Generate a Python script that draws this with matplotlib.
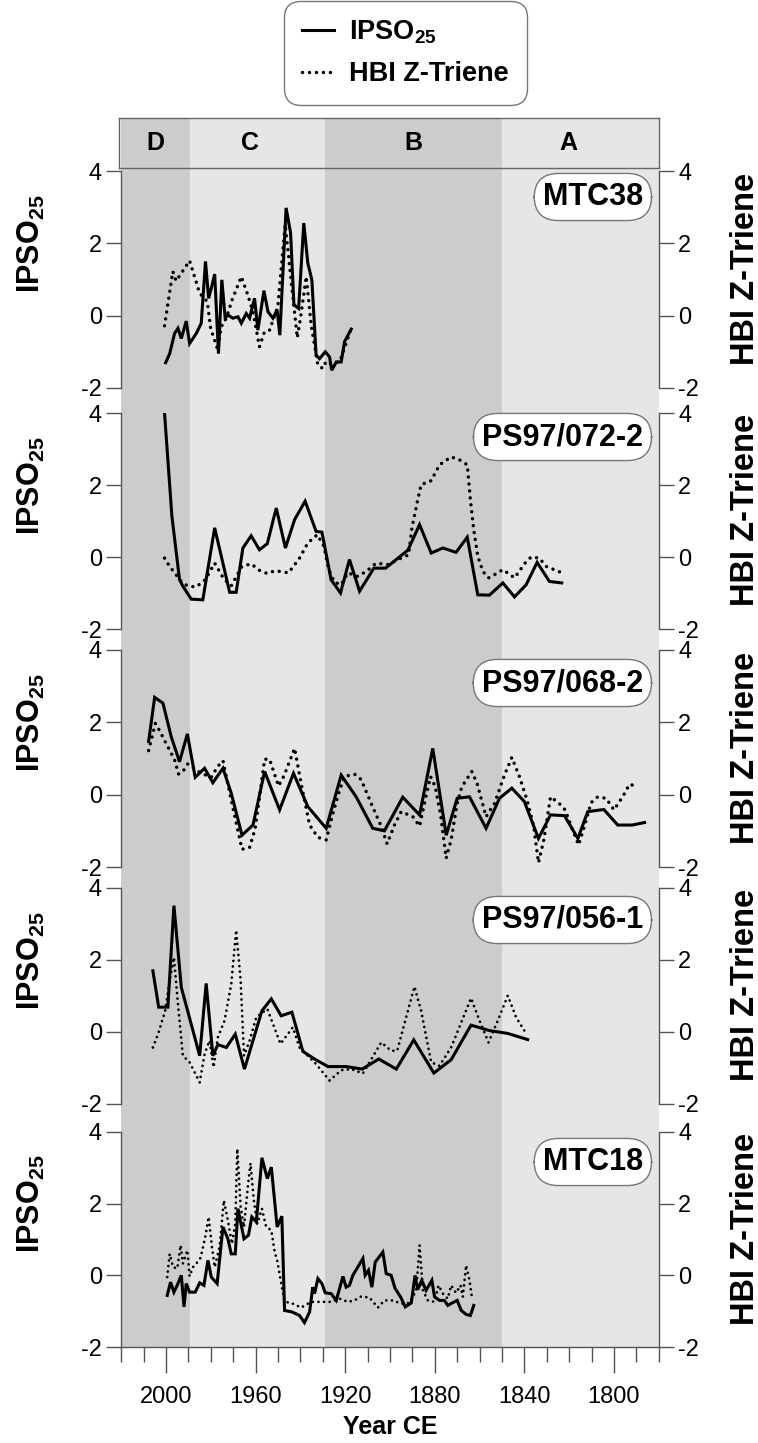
import matplotlib
matplotlib.use("Agg")
import matplotlib.pyplot as plt
from matplotlib.ticker import MultipleLocator, FixedLocator
from matplotlib.lines import Line2D

plt.rcParams['font.family'] = ['Liberation Sans', 'DejaVu Sans']
plt.rcParams['axes.unicode_minus'] = False
plt.rcParams['mathtext.fontset'] = 'custom'
plt.rcParams['mathtext.rm'] = 'Liberation Sans'
plt.rcParams['mathtext.bf'] = 'Liberation Sans:bold'

# ------------------------------------------------------------------ data
zone_edges = [2020, 1989.5, 1929, 1850, 1780]
zone_names = ['D', 'C', 'B', 'A']
zone_label_years = [2004.8, 1962.3, 1889.7, 1820.4]
zone_colors = ['#cccccc', '#e6e6e6', '#cccccc', '#e6e6e6']

core_names = ['MTC38', 'PS97/072-2', 'PS97/068-2', 'PS97/056-1', 'MTC18']
y_ticks = [-2, 0, 2, 4]
x_major_years = [2000, 1960, 1920, 1880, 1840, 1800]

# MTC38
mtc38_ipso_year = [2000.2, 1998.4, 1996.2, 1994.7, 1993.2, 1991.0, 1989.5, 1986.5, 1984.3, 1982.4,
                   1981.0, 1979.8, 1978.3, 1976.6, 1975.1, 1973.6, 1972.4, 1970.2, 1967.9, 1966.4,
                   1964.2, 1962.7, 1960.5, 1959.0, 1956.3, 1954.5, 1952.3, 1950.4, 1949.2, 1946.4,
                   1944.4, 1942.9, 1940.8, 1938.5, 1936.7, 1934.9, 1933.0, 1931.5, 1928.9, 1927.0,
                   1926.0, 1924.0, 1921.8, 1920.3, 1917.3]
mtc38_ipso = [-1.30, -1.05, -0.49, -0.35, -0.63, -0.15, -0.77, -0.49, -0.21, 1.50,
              0.48, 0.76, 1.15, -1.05, 0.99, -0.07, 0.02, -0.07, -0.03, -0.21,
              0.06, -0.07, 0.48, -0.40, 0.69, 0.11, -0.07, 0.16, -0.54, 2.98,
              2.29, 0.30, 0.20, 2.56, 1.45, 0.99, -1.09, -1.19, -1.00, -1.14,
              -1.51, -1.28, -1.28, -0.72, -0.37]
mtc38_hbi_year = [2000.7, 1997.0, 1995.5, 1989.5, 1985.0, 1981.6, 1980.1, 1976.9, 1975.4, 1973.1,
                  1970.5, 1966.4, 1963.5, 1961.2, 1958.3, 1956.0, 1953.8, 1950.1, 1946.8, 1944.1,
                  1941.4, 1940.0, 1937.4, 1935.2, 1932.2, 1930.0, 1928.5, 1926.3, 1922.5, 1917.3]
mtc38_hbi = [-0.28, 1.22, 0.96, 1.52, 0.62, 0.39, -0.35, -0.95, -0.31, -0.07,
             0.44, 1.08, 0.57, 0.11, -0.86, -0.44, -0.40, 0.25, 2.52, 0.94,
             -0.61, -0.07, 1.08, -0.26, -1.37, -1.46, -1.26, -1.32, -1.28, -0.35]

# PS97/072-2
ps072_ipso_year = [2000.7, 1997.4, 1994.0, 1992.5, 1988.8, 1983.6, 1978.3, 1971.6, 1968.7, 1965.7,
                   1962.0, 1958.3, 1954.8, 1950.8, 1946.7, 1942.6, 1937.9, 1933.0, 1930.4, 1926.3,
                   1922.1, 1918.1, 1913.6, 1907.2, 1902.0, 1892.0, 1886.8, 1881.6, 1876.4, 1870.5,
                   1865.5, 1860.8, 1855.6, 1849.6, 1844.4, 1839.2, 1834.3, 1828.8, 1823.3]
ps072_ipso = [4.00, 1.13, -0.63, -0.81, -1.17, -1.19, 0.81, -0.98, -0.98, 0.25,
              0.59, 0.20, 0.37, 1.36, 0.25, 1.04, 1.55, 0.71, 0.69, -0.63,
              -1.00, -0.07, -0.95, -0.31, -0.31, 0.19, 0.90, 0.11, 0.25, 0.13,
              0.55, -1.05, -1.06, -0.72, -1.11, -0.77, -0.15, -0.68, -0.72]
ps072_hbi_year = [2000.7, 1998.4, 1996.2, 1993.2, 1990.3, 1986.5, 1982.5, 1978.3, 1974.2, 1970.9,
                  1966.1, 1962.0, 1958.3, 1954.8, 1951.3, 1945.3, 1940.4, 1936.7, 1932.5, 1929.5,
                  1927.4, 1924.8, 1921.8, 1918.8, 1914.4, 1910.6, 1906.2, 1901.0, 1895.0, 1891.7,
                  1890.2, 1887.6, 1886.1, 1881.6, 1877.9, 1872.7, 1869.0, 1865.5, 1864.1, 1862.6,
                  1860.8, 1858.5, 1856.0, 1853.3, 1849.6, 1844.4, 1839.7, 1837.0, 1833.3, 1830.3,
                  1823.6]
ps072_hbi = [-0.03, -0.26, -0.44, -0.68, -0.81, -0.83, -0.63, -0.17, -0.61, -0.80,
             -0.26, -0.19, -0.37, -0.46, -0.38, -0.44, -0.03, 0.39, 0.62, 0.30,
             -0.35, -0.70, -0.77, -0.44, -0.54, -0.40, -0.17, -0.21, -0.03, 0.06,
             0.81, 1.59, 2.01, 2.12, 2.56, 2.78, 2.70, 2.56, 1.59, 0.76,
             0.02, -0.40, -0.58, -0.49, -0.35, -0.58, -0.17, 0.00, -0.03, -0.26,
             -0.43]

# PS97/068-2
ps068_ipso_year = [2007.8, 2005.1, 2001.4, 1997.7, 1994.0, 1990.5, 1987.0, 1982.8, 1979.1, 1974.6,
                   1970.9, 1966.1, 1961.2, 1956.0, 1949.3, 1943.1, 1936.7, 1928.5, 1921.8, 1915.1,
                   1907.7, 1902.5, 1894.3, 1886.8, 1880.9, 1874.9, 1870.0, 1864.5, 1857.1, 1851.1,
                   1845.6, 1840.0, 1833.7, 1828.3, 1822.1, 1816.1, 1811.7, 1804.5, 1798.3, 1791.9,
                   1786.3]
ps068_ipso = [1.47, 2.69, 2.53, 1.60, 0.91, 1.68, 0.48, 0.73, 0.33, 0.73,
              0.04, -1.12, -0.84, 0.64, -0.42, 0.59, -0.33, -0.93, 0.54, -0.06,
              -0.93, -1.00, -0.07, -0.56, 1.28, -1.12, -0.10, -0.06, -0.93, -0.10,
              0.18, -0.19, -1.21, -0.56, -0.58, -1.21, -0.47, -0.41, -0.84, -0.84,
              -0.77]
ps068_hbi_year = [2007.8, 2004.8, 2002.9, 1996.2, 1994.4, 1992.5, 1990.3, 1984.3, 1979.8, 1977.2,
                  1974.6, 1970.9, 1966.1, 1962.7, 1960.2, 1956.0, 1953.8, 1949.8, 1947.5, 1942.6,
                  1939.7, 1935.9, 1932.2, 1928.5, 1925.5, 1922.5, 1920.3, 1915.9, 1912.9, 1908.4,
                  1903.9, 1901.3, 1898.0, 1895.0, 1889.8, 1886.8, 1884.3, 1881.9, 1879.8, 1877.4,
                  1874.9, 1872.7, 1870.0, 1867.9, 1863.5, 1861.1, 1857.1, 1853.3, 1848.9, 1845.6,
                  1842.2, 1838.8, 1835.8, 1833.7, 1831.3, 1828.3, 1824.8, 1821.8, 1818.4, 1815.8,
                  1813.2, 1810.2, 1807.2, 1803.5, 1800.0, 1796.0, 1793.0, 1789.5]
ps068_hbi = [1.22, 1.97, 1.77, 0.96, 0.57, 0.64, 0.85, 0.59, 0.48, 0.76,
             0.94, -0.15, -1.51, -1.46, -0.93, 0.98, 0.98, 0.24, 0.50, 1.28,
             0.31, -0.84, -1.18, -1.25, -0.52, 0.13, 0.50, 0.57, 0.42, -0.24,
             -0.88, -1.36, -0.84, -0.47, -0.61, -0.87, -0.15, 0.50, 0.22, -0.56,
             -1.76, -1.25, -0.24, 0.22, 0.64, 0.31, -0.61, -0.24, 0.54, 1.03,
             0.50, -0.15, -0.88, -1.88, -1.25, -0.06, -0.22, -0.42, -0.98, -1.39,
             -0.88, -0.22, -0.06, -0.10, -0.42, -0.05, 0.29, 0.22]

# PS97/056-1
ps056_ipso_year = [2005.9, 2003.3, 1999.2, 1996.5, 1993.2, 1985.0, 1982.1, 1979.1, 1976.9, 1973.1,
                   1969.1, 1965.0, 1957.2, 1953.0, 1948.6, 1943.8, 1938.9, 1933.7, 1927.7, 1919.6,
                   1912.4, 1905.0, 1897.2, 1889.4, 1880.4, 1872.7, 1863.8, 1855.6, 1847.4, 1838.5]
ps056_ipso = [1.70, 0.69, 0.69, 3.51, 1.24, -0.66, 1.35, -0.66, -0.35, -0.43,
              -0.06, -1.03, 0.59, 0.92, 0.45, 0.55, -0.54, -0.75, -0.96, -0.96,
              -1.03, -0.75, -1.03, -0.22, -1.14, -0.77, 0.19, 0.04, -0.04, -0.21]
ps056_hbi_year = [2005.9, 2003.6, 2000.4, 1998.4, 1996.5, 1994.7, 1992.5, 1989.5, 1985.0, 1982.8,
                  1980.6, 1978.8, 1976.9, 1973.9, 1970.9, 1968.7, 1966.7, 1965.2, 1962.7, 1959.7,
                  1954.8, 1948.9, 1943.4, 1940.4, 1933.0, 1927.0, 1921.8, 1917.3, 1912.1, 1903.9,
                  1899.5, 1896.8, 1889.1, 1886.1, 1881.6, 1877.9, 1872.7, 1863.8, 1860.0, 1856.0,
                  1851.9, 1847.4, 1843.7, 1840.0]
ps056_hbi = [-0.43, -0.06, 0.59, 1.43, 2.07, 0.78, -0.66, -0.84, -1.40, -0.61,
             -0.24, -0.98, -0.15, 0.31, 1.33, 2.83, 1.43, -0.66, -0.24, 0.41,
             0.64, -0.33, 0.13, -0.43, -0.89, -1.35, -1.06, -1.03, -1.15, -0.29,
             -0.52, -0.52, 1.26, 0.59, -0.84, -0.94, -0.43, 0.94, 0.31, -0.29,
             0.31, 1.01, 0.41, 0.04]

# MTC18
mtc18_ipso_year = [1999.5, 1998.0, 1996.5, 1994.7, 1993.2, 1992.0, 1991.0, 1989.5, 1987.0, 1985.0,
                   1983.1, 1981.3, 1979.8, 1977.2, 1974.6, 1972.4, 1970.9, 1969.1, 1967.9, 1965.2,
                   1963.2, 1961.7, 1959.7, 1957.2, 1954.8, 1953.0, 1950.4, 1948.3, 1947.1, 1943.8,
                   1940.4, 1938.2, 1935.9, 1934.5, 1933.7, 1932.2, 1930.4, 1928.9, 1926.3, 1924.0,
                   1921.0, 1919.6, 1918.1, 1916.6, 1914.4, 1912.1, 1911.1, 1909.6, 1908.1, 1906.6,
                   1903.2, 1901.7, 1899.5, 1897.7, 1895.3, 1893.2, 1890.5, 1888.8, 1887.6, 1885.8,
                   1883.9, 1881.3, 1880.1, 1877.9, 1875.7, 1874.2, 1872.2, 1870.0, 1868.2, 1866.0,
                   1864.1, 1862.6]
mtc18_ipso = [-0.56, -0.19, -0.47, -0.23, 0.00, -0.88, -0.23, -0.47, -0.47, -0.21,
              -0.28, 0.42, -0.05, -0.23, 1.35, 1.02, 0.60, 0.60, 1.86, 1.02,
              1.12, 1.63, 1.49, 3.28, 2.70, 3.02, 1.35, 1.65, -0.98, -1.02,
              -1.12, -1.32, -1.02, -0.33, -0.51, -0.09, -0.23, -0.49, -0.51, -0.70,
              -0.03, -0.33, -0.28, 0.00, 0.23, 0.47, 0.00, 0.14, -0.33, 0.37,
              0.65, 0.05, 0.00, -0.37, -0.60, -0.88, -0.77, 0.00, -0.40, -0.14,
              -0.42, -0.14, -0.60, -0.70, -0.70, -0.84, -0.77, -0.70, -0.98, -1.09,
              -1.12, -0.84]
mtc18_hbi_year = [1999.5, 1998.4, 1996.9, 1995.0, 1993.5, 1992.5, 1990.5, 1989.5, 1988.0, 1986.5,
                  1984.6, 1982.5, 1981.0, 1979.5, 1978.3, 1976.1, 1974.2, 1972.4, 1970.6, 1969.1,
                  1968.2, 1966.7, 1965.2, 1963.5, 1962.3, 1960.8, 1959.3, 1957.2, 1955.3, 1953.0,
                  1951.5, 1950.4, 1947.1, 1944.1, 1939.7, 1935.2, 1930.7, 1926.3, 1922.5, 1918.8,
                  1915.9, 1912.9, 1909.2, 1905.4, 1902.5, 1898.7, 1895.0, 1891.3, 1888.3, 1886.8,
                  1885.3, 1883.1, 1880.1, 1878.3, 1876.4, 1874.2, 1872.7, 1870.5, 1868.5, 1867.5,
                  1866.0, 1864.5, 1863.5]
mtc18_hbi = [-0.05, 0.60, 0.23, 0.19, 0.84, 0.33, 0.70, -0.03, 0.23, 0.33,
             0.49, 1.07, 1.63, 0.79, 0.23, 0.79, 2.09, 1.53, 0.88, 1.44,
             3.53, 1.91, 1.35, 2.47, 3.13, 2.09, 1.44, 1.86, 1.35, 1.26,
             0.65, 0.42, -0.74, -0.77, -0.90, -0.74, -0.74, -0.74, -0.65, -0.74,
             -0.70, -0.59, -0.62, -0.90, -0.70, -0.70, -0.79, -0.77, -0.42, 0.84,
             -0.42, -0.70, -0.74, -0.28, -0.51, -0.65, -0.28, -0.49, -0.28, -0.60,
             0.28, -0.14, -0.58]

ipso_years = [mtc38_ipso_year, ps072_ipso_year, ps068_ipso_year, ps056_ipso_year, mtc18_ipso_year]
ipso_vals = [mtc38_ipso, ps072_ipso, ps068_ipso, ps056_ipso, mtc18_ipso]
hbi_years = [mtc38_hbi_year, ps072_hbi_year, ps068_hbi_year, ps056_hbi_year, mtc18_hbi_year]
hbi_vals = [mtc38_hbi, ps072_hbi, ps068_hbi, ps056_hbi, mtc18_hbi]

# ------------------------------------------------------------------ layout
W, H = 758, 1443
fig = plt.figure(figsize=(W / 100, H / 100), dpi=100)


def fx(px):
    return px / W


def fy(py):
    return 1 - py / H


X0, X1 = 121.3, 658.7
HDR_TOP, HDR_BOT = 118, 168
panel_tops = [171, 413, 650, 888, 1132]
panel_bots = [388, 629, 867, 1104, 1347]
name_box_right = 652
name_box_cy = [197, 437, 683, 920, 1162]
xlim = (zone_edges[0], zone_edges[-1])
spine_col = '#555555'

# background shading
bg = fig.add_axes([fx(X0), fy(panel_bots[-1]), (X1 - X0) / W, (panel_bots[-1] - HDR_TOP) / H])
bg.set_xlim(*xlim)
bg.set_ylim(0, 1)
bg.axis('off')
for i in range(len(zone_names)):
    bg.axvspan(zone_edges[i], zone_edges[i + 1], color=zone_colors[i], lw=0)

# header strip
hdr = fig.add_axes([fx(X0 - 2.5), fy(HDR_BOT), (X1 - X0 + 2.5) / W, (HDR_BOT - HDR_TOP) / H])
hdr.set_xlim(xlim[0] + 2.5 / ((X1 - X0) / (xlim[0] - xlim[1])), xlim[1])
hdr.set_ylim(0, 1)
hdr.patch.set_visible(False)
hdr.set_xticks([])
hdr.set_yticks([])
for s in hdr.spines.values():
    s.set_color('#666666')
    s.set_linewidth(1.0)
for name, yr in zip(zone_names, zone_label_years):
    hdr.text(yr, 0.5, name, ha='center', va='center', fontsize=18, fontweight='bold')

ipso_label = r'$\mathbf{IPSO_{25}}$'
hbi_label = 'HBI Z-Triene'

for i in range(5):
    top, bot = panel_tops[i], panel_bots[i]
    ax = fig.add_axes([fx(X0), fy(bot), (X1 - X0) / W, (bot - top) / H])
    ax.set_xlim(*xlim)
    ax.set_ylim(-2, 4)
    ax.patch.set_visible(False)
    ax.plot(ipso_years[i], ipso_vals[i], color='black', lw=2.2, solid_joinstyle='miter')

    ax2 = ax.twinx()
    ax2.set_ylim(-2, 4)
    dot_lw = 2.5 if i < 3 else 2.0
    ax2.plot(hbi_years[i], hbi_vals[i], color='black', lw=dot_lw,
             linestyle=(0, (0.01, 2.0)), dash_capstyle='round')

    for a in (ax, ax2):
        a.spines['top'].set_visible(False)
        for s in a.spines.values():
            s.set_color(spine_col)
            s.set_linewidth(1.0)
    ax.spines['right'].set_visible(False)
    ax2.spines['left'].set_visible(False)
    ax2.spines['bottom'].set_visible(False)

    ax.yaxis.set_major_locator(FixedLocator(y_ticks))
    ax2.yaxis.set_major_locator(FixedLocator(y_ticks))
    ax.tick_params(axis='y', direction='out', length=11, width=1.0, color=spine_col,
                   labelsize=17, pad=3)
    ax2.tick_params(axis='y', direction='out', length=11, width=1.0, color=spine_col,
                    labelsize=17, pad=3)

    if i < 4:
        ax.spines['bottom'].set_visible(False)
        ax.tick_params(axis='x', bottom=False, labelbottom=False)
    else:
        ax.xaxis.set_major_locator(FixedLocator(x_major_years))
        ax.xaxis.set_minor_locator(MultipleLocator(10))
        ax.tick_params(axis='x', which='major', direction='out', length=19, width=1.0,
                       color=spine_col, labelsize=17, pad=9)
        ax.tick_params(axis='x', which='minor', direction='out', length=11, width=1.0,
                       color=spine_col)
        ax.set_xlabel('Year CE', fontsize=18, fontweight='bold', labelpad=5)
    ax2.tick_params(axis='x', bottom=False, labelbottom=False, top=False)

    # y-axis titles
    cy_left = top + (bot - top) * 0.335
    cy_right = top + (bot - top) * 0.45
    fig.text(fx(31), fy(cy_left), ipso_label, rotation=90, ha='center', va='center',
             fontsize=22)
    fig.text(fx(745), fy(cy_right), hbi_label, rotation=90, ha='center', va='center',
             fontsize=23.5, fontweight='bold')

    # core name
    fig.text(fx(name_box_right - 9), fy(name_box_cy[i]), core_names[i], ha='right', va='center',
             fontsize=22, fontweight='bold',
             bbox=dict(boxstyle='round,pad=0.28,rounding_size=0.8', fc='white',
                       ec='#777777', lw=1.0))

# legend
handles = [Line2D([], [], color='black', lw=2.2),
           Line2D([], [], color='black', lw=2.5, linestyle=(0, (0.01, 2.0)),
                  dash_capstyle='round')]
leg = fig.legend(handles, [ipso_label, hbi_label], loc='upper center',
                 bbox_to_anchor=(fx(405.5), fy(1)), prop={'weight': 'bold', 'size': 19.5},
                 handlelength=1.2, handletextpad=0.55, labelspacing=0.55, borderpad=0.65,
                 fancybox=True, framealpha=1, edgecolor='#777777', borderaxespad=0)
leg.get_frame().set_linewidth(1.0)
leg.get_frame().set_boxstyle('round', pad=0, rounding_size=0.6)

fig.savefig('out.png', dpi=100)
